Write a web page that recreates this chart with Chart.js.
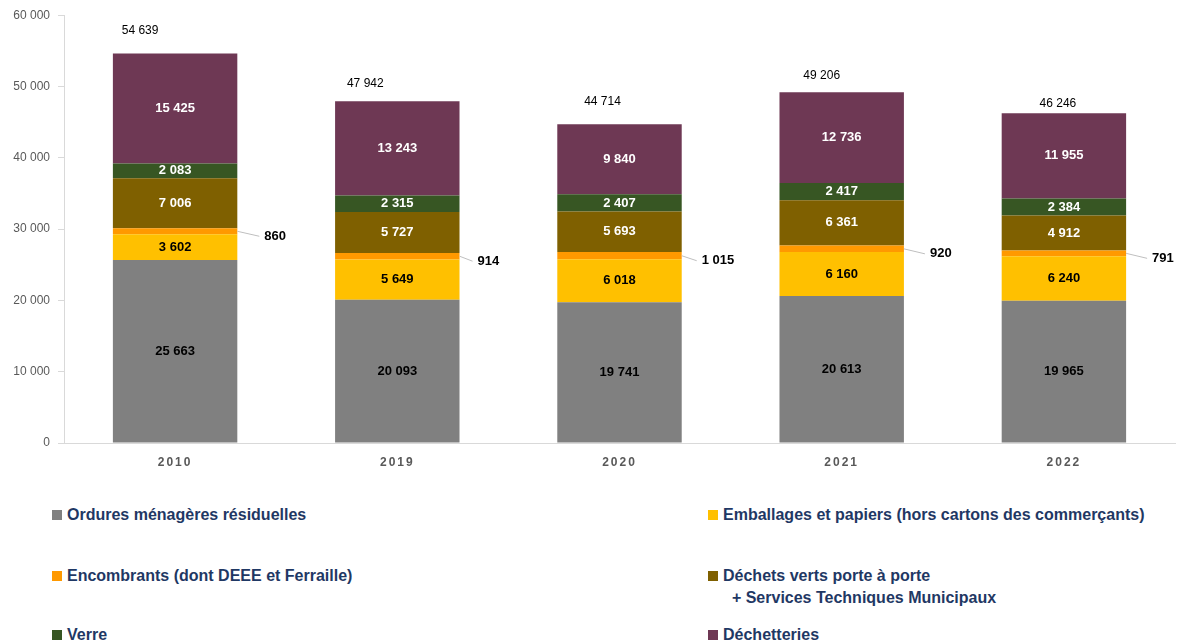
<!DOCTYPE html>
<html>
<head>
<meta charset="utf-8">
<script src="https://cdn.jsdelivr.net/npm/chart.js@4"></script>
<style>
    body { margin: 0; background: #fff; font-family: 'Liberation Sans', Arial, sans-serif; }
    #wrap { position: relative; width: 1177px; height: 642px; }
    #box { position: absolute; left: 0; top: 0; width: 1177px; height: 480px; }
    .leg { position: absolute; font-weight: bold; font-size: 16px; color: #1F3864; line-height: 22px; white-space: nowrap; }
    .leg i { position: absolute; left: -15px; top: 6px; width: 10px; height: 10px; }
</style>
</head>
<body>
<div id="wrap">
    <div id="box"><canvas id="chart" width="1177" height="480"></canvas></div>
    <div id="legend"></div>
</div>
<script>
const years = ['2010', '2019', '2020', '2021', '2022'];
const seriesNames = [
    'Ordures ménagères résiduelles',
    'Emballages et papiers (hors cartons des commerçants)',
    'Encombrants (dont DEEE et Ferraille)',
    'Déchets verts porte à porte\n+ Services Techniques Municipaux',
    'Verre',
    'Déchetteries'
];
const omr = [25663, 20093, 19741, 20613, 19965];
const emballages = [3602, 5649, 6018, 6160, 6240];
const encombrants = [860, 914, 1015, 920, 791];
const dechetsVerts = [7006, 5727, 5693, 6361, 4912];
const verre = [2083, 2315, 2407, 2417, 2384];
const dechetteries = [15425, 13243, 9840, 12736, 11955];
const totals = [54639, 47942, 44714, 49206, 46246];
const yTicks = [0, 10000, 20000, 30000, 40000, 50000, 60000];

const colors = ['#808080', '#FFC000', '#FF9900', '#7F6000', '#375623', '#6E3854'];
const labelColors = ['#000', '#000', '#000', '#fff', '#fff', '#fff'];
const allSeries = [omr, emballages, encombrants, dechetsVerts, verre, dechetteries];

// hand-placed label offsets, as in the original (pixels)
const totalShift = [[-35, -23], [-32, -17], [-17, -23], [-20, -16], [-6, -10]];
const sideShift = [27, 18, 20, 26, 26];

function fmt(n) {
    return String(n).replace(/\B(?=(\d{3})+(?!\d))/g, ' ');
}

// legend (two columns, built from the series names)
const legendPos = [[67, 504], [723, 504], [67, 565], [723, 565], [67, 624], [723, 624]];
const legend = document.getElementById('legend');
seriesNames.forEach((name, i) => {
    const d = document.createElement('div');
    d.className = 'leg';
    d.style.left = legendPos[i][0] + 'px';
    d.style.top = legendPos[i][1] + 'px';
    const sw = document.createElement('i');
    sw.style.background = colors[i];
    d.appendChild(sw);
    name.split('\n').forEach((line, k) => {
        if (k > 0) {
            d.appendChild(document.createElement('br'));
            line = '\u00a0\u00a0' + line;
        }
        d.appendChild(document.createTextNode(line));
    });
    legend.appendChild(d);
});

// spaced-out year labels (x axis is drawn before the datasets, y ticks after)
const spacing = {
    id: 'spacing',
    beforeDraw(chart) { chart.ctx.letterSpacing = '2px'; },
    beforeDatasetsDraw(chart) { chart.ctx.letterSpacing = '0px'; }
};

const valueLabels = {
    id: 'valueLabels',
    afterDatasetsDraw(chart) {
        const ctx = chart.ctx;
        ctx.save();
        ctx.letterSpacing = '0px';
        ctx.textBaseline = 'middle';
        chart.data.datasets.forEach((ds, i) => {
            const meta = chart.getDatasetMeta(i);
            meta.data.forEach((bar, j) => {
                const v = ds.data[j];
                const midY = (bar.y + bar.base) / 2;
                ctx.font = 'bold 13px "Liberation Sans", Arial, sans-serif';
                if (i === 2) {
                    const x0 = bar.x + bar.width / 2;
                    const gap = sideShift[j];
                    ctx.strokeStyle = '#BFBFBF';
                    ctx.lineWidth = 1;
                    ctx.beginPath();
                    ctx.moveTo(x0, midY);
                    ctx.lineTo(x0 + gap - 5, midY + 5);
                    ctx.stroke();
                    ctx.fillStyle = '#000';
                    ctx.textAlign = 'left';
                    ctx.fillText(fmt(v), x0 + gap, midY + 5);
                } else {
                    ctx.fillStyle = labelColors[i];
                    ctx.textAlign = 'center';
                    ctx.fillText(fmt(v), bar.x, midY);
                }
            });
        });
        const top = chart.getDatasetMeta(5).data;
        ctx.font = '12px "Liberation Sans", Arial, sans-serif';
        ctx.fillStyle = '#000';
        ctx.textAlign = 'center';
        totals.forEach((t, j) => {
            ctx.fillText(fmt(t), top[j].x + totalShift[j][0], chart.scales.y.getPixelForValue(t) + totalShift[j][1]);
        });
        ctx.restore();
    }
};

new Chart(document.getElementById('chart').getContext('2d'), {
    type: 'bar',
    data: {
        labels: years,
        datasets: allSeries.map((d, i) => ({
            label: seriesNames[i],
            data: d,
            backgroundColor: colors[i],
            categoryPercentage: 1,
            barPercentage: 0.56
        }))
    },
    options: {
        responsive: false,
        animation: false,
        layout: { padding: { top: 15, right: 2 } },
        plugins: { legend: { display: false }, tooltip: { enabled: false } },
        scales: {
            x: {
                stacked: true,
                grid: { display: false, drawTicks: false },
                border: { color: '#D9D9D9' },
                ticks: { color: '#595959', font: { size: 12, weight: 'bold' }, padding: 12 },
                afterFit(s) { s.height = 37; }
            },
            y: {
                stacked: true,
                min: 0,
                max: 60000,
                afterBuildTicks(s) { s.ticks = yTicks.map(v => ({ value: v })); },
                ticks: { z: 1, color: '#595959', font: { size: 12 }, padding: 8, callback: v => fmt(v) },
                grid: { drawOnChartArea: false, tickLength: 6, color: '#D9D9D9' },
                border: { color: '#D9D9D9' },
                afterFit(s) { s.width = 64; }
            }
        }
    },
    plugins: [spacing, valueLabels]
});
</script>
</body>
</html>
